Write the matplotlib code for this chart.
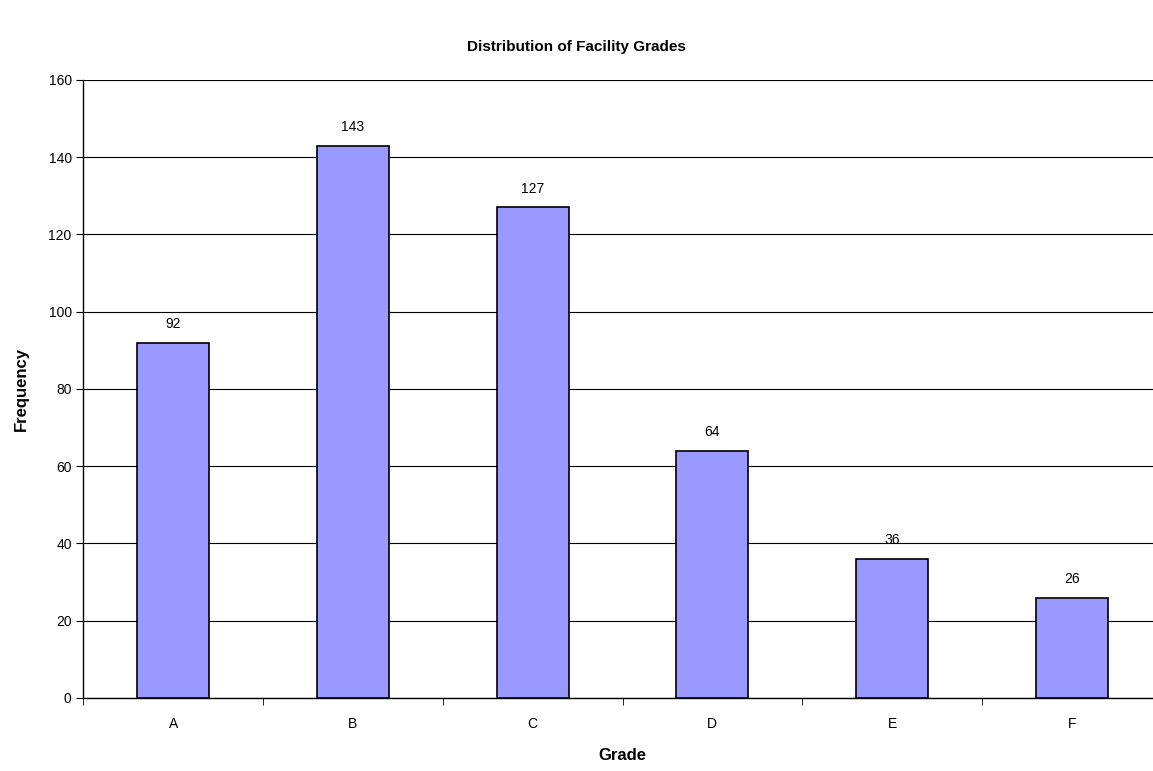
import matplotlib

matplotlib.use("Agg")

import matplotlib.pyplot as plt
import numpy as np

grades = ["A", "B", "C", "D", "E", "F"]
counts = [92, 143, 127, 64, 36, 26]
y_ticks = [0, 20, 40, 60, 80, 100, 120, 140, 160]

plt.rcParams["font.family"] = ["Liberation Sans", "DejaVu Sans"]

fig = plt.figure(figsize=(11.53, 7.71), dpi=100)
ax = fig.add_axes([0.0724, 0.0947, 0.935, 0.8016])

x = np.arange(len(grades))
bars = ax.bar(x, counts, width=0.4, color="#9999FF", edgecolor="black",
              linewidth=1.2, zorder=3)
for rect, value in zip(bars, counts):
    ax.text(rect.get_x() + rect.get_width() / 2, value + 3, str(value),
            ha="center", va="bottom", fontsize=10)

ax.set_xlim(-0.5, len(grades) - 0.5)
ax.set_ylim(0, 160)
ax.set_yticks(y_ticks)
ax.set_xticks(x)
ax.set_xticklabels(grades)
ax.set_xticks(np.arange(-0.5, len(grades), 1.0), minor=True)
ax.tick_params(axis="x", which="major", length=0, pad=14, labelsize=10)
ax.tick_params(axis="x", which="minor", length=5, direction="out")
ax.tick_params(axis="y", length=5, direction="out", labelsize=10)
ax.grid(True, axis="y", color="black", linewidth=0.8, zorder=0)

for side in ["top", "right"]:
    ax.spines[side].set_visible(False)
ax.spines["left"].set_linewidth(1.0)
ax.spines["bottom"].set_linewidth(1.0)

ax.set_xlabel("Grade", fontsize=12, fontweight="bold", labelpad=12)
ax.set_ylabel("Frequency", fontsize=12, fontweight="bold", labelpad=14)
fig.text(0.5, 0.939, "Distribution of Facility Grades", ha="center",
         va="center", fontsize=11, fontweight="bold")

fig.savefig("out.png", dpi=100)
